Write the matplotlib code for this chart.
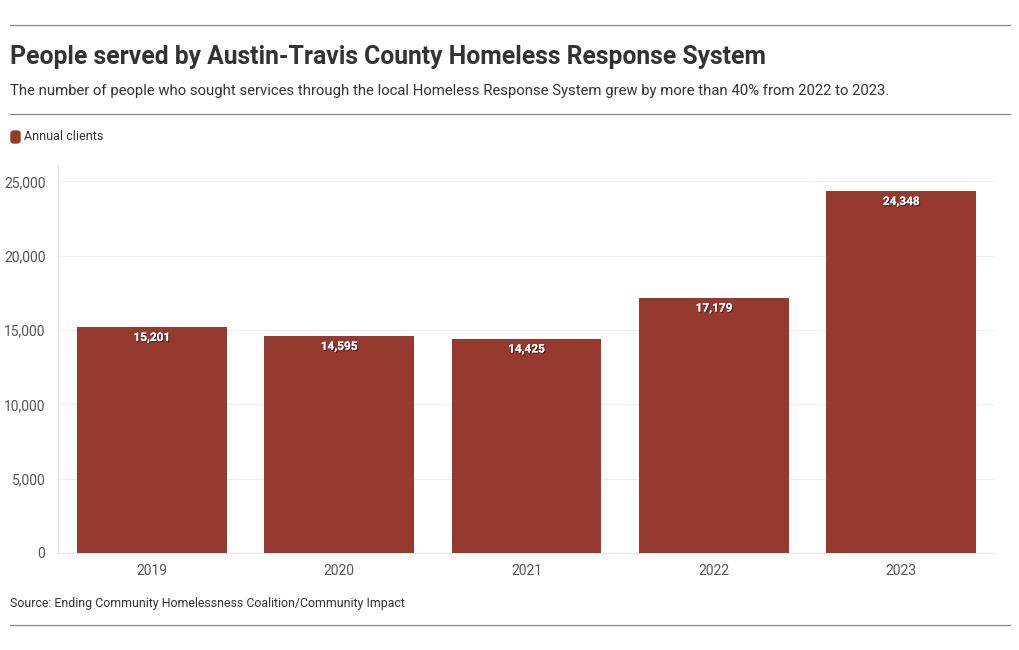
import matplotlib.pyplot as plt
import matplotlib.patheffects as pe
from matplotlib.patches import FancyBboxPatch
from matplotlib.lines import Line2D

years = ['2019', '2020', '2021', '2022', '2023']
clients = [15201, 14595, 14425, 17179, 24348]
yticks = [0, 5000, 10000, 15000, 20000, 25000]

bar_color = '#963a2f'
text_color = '#333333'
plt.rcParams['font.family'] = ['Roboto', 'DejaVu Sans']

fig = plt.figure(figsize=(10.2, 6.5), dpi=100)
ax = fig.add_axes([58 / 1020, 1 - 553 / 650, 937 / 1020, 388 / 650])

x = range(len(years))
bars = ax.bar(x, clients, width=0.8, color=bar_color, zorder=3)
ax.set_xlim(-0.5, len(years) - 0.5)
ax.set_ylim(0, 26100)
ax.set_xticks(list(x))
ax.set_xticklabels(years)
ax.set_yticks(yticks)
ax.set_yticklabels(['{:,}'.format(v) for v in yticks])
ax.tick_params(length=0, labelsize=10, colors='#555555')
ax.tick_params(axis='x', pad=8)
ax.tick_params(axis='y', pad=9)
ax.grid(axis='y', color='#eeeeee', linewidth=0.8, zorder=0)
for s in ['top', 'right']:
    ax.spines[s].set_visible(False)
ax.spines['left'].set_color('#e6e6e6')
ax.spines['bottom'].set_color('#e6e6e6')

for xi, v in zip(x, clients):
    ax.annotate('{:,}'.format(v), (xi, v), xytext=(0, -7.5), textcoords='offset points',
                ha='center', va='center', color='white', fontsize=8.5, fontweight='bold',
                path_effects=[pe.withSimplePatchShadow(offset=(0.8, -0.8), shadow_rgbFace='#222222', alpha=0.8),
                              pe.Normal()], zorder=4)

# header / footer
for yy in [25, 114, 625]:
    fig.add_artist(Line2D([10 / 1020, 1010 / 1020], [1 - yy / 650] * 2, color='#888888', linewidth=0.9))

fig.text(10 / 1020, 1 - 57 / 650, 'People served by Austin-Travis County Homeless Response System',
         fontsize=17.8, fontweight='bold', color=text_color, va='center')
fig.text(10 / 1020, 1 - 91 / 650,
         'The number of people who sought services through the local Homeless Response System grew by more than 40% from 2022 to 2023.',
         fontsize=10.7, color=text_color, va='center')

fig.patches.append(FancyBboxPatch((11 / 1020, 1 - 143 / 650), 9 / 1020, 12 / 650,
                                  boxstyle='round,pad=0,rounding_size=0.003', color=bar_color,
                                  transform=fig.transFigure, figure=fig))
fig.text(24 / 1020, 1 - 137 / 650, 'Annual clients', fontsize=9, color=text_color, va='center')

fig.text(10 / 1020, 1 - 603 / 650, 'Source: Ending Community Homelessness Coalition/Community Impact',
         fontsize=8.9, color=text_color, va='center')

fig.savefig('out.png', dpi=100)
